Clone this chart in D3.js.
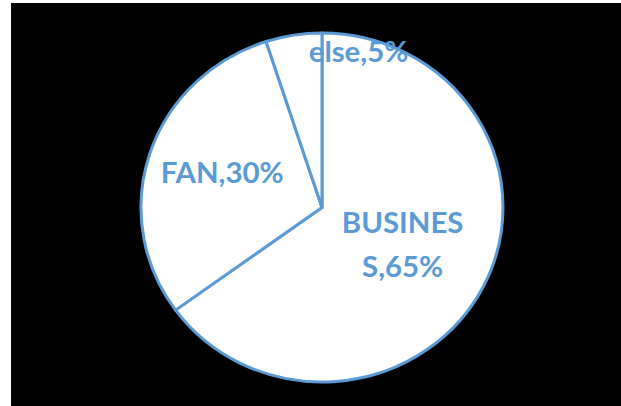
<!DOCTYPE html>
<html>
<head>
<meta charset="utf-8">
<script src="https://cdn.jsdelivr.net/npm/d3@7"></script>
<style>
  html, body { margin: 0; padding: 0; background: #fff; }
  svg { display: block; }
  .lbl { font-family: Lato, "Open Sans", sans-serif; font-weight: bold; fill: #5b9bd5; }
</style>
</head>
<body>
<div id="chart"></div>
<script>
// data
const categories = ['BUSINESS', 'FAN', 'else']
const shares = [65, 30, 5]

const W = 621, H = 406
const cx = 322, cy = 207.5
const rx = 181, ry = 174.5
const blue = '#5b9bd5'

let svg = d3.select('#chart').append('svg')
  .attr('width', W)
  .attr('height', H)

// black backdrop (white strip on the left/top like the screenshot)
svg.append('rect')
  .attr('x', 11).attr('y', 3)
  .attr('width', W - 11).attr('height', H - 3)
  .attr('fill', '#000')

let data = categories.map((c, i) => ({ name: c, value: shares[i] }))

let pie = d3.pie().sort(null).value(d => d.value)
let arcs = pie(data)

// unit arc, stretched to the ellipse
let arc = d3.arc().innerRadius(0).outerRadius(1)

svg.append('g')
  .attr('transform', `translate(${cx},${cy}) scale(${rx},${ry})`)
  .selectAll('path')
  .data(arcs)
  .join('path')
  .attr('d', arc)
  .attr('fill', '#fff')
  .attr('stroke', blue)
  .attr('stroke-width', 3)
  .attr('stroke-linejoin', 'round')
  .attr('vector-effect', 'non-scaling-stroke')

// label placement: radius fraction + nudge (Excel "best fit" look)
const labelK = [0.5, 0.58, 0.9]
const labelDx = [0, 0, 62]
const labelDy = [-2, -3, 0]
const fontSize = 28
const stretch = 1.05   // labels in the screenshot are a bit wide
const maxW = 124

let labels = svg.append('g')
arcs.forEach((a, i) => {
  let mid = (a.startAngle + a.endAngle) / 2
  let x = cx + rx * labelK[i] * Math.sin(mid) + labelDx[i]
  let y = cy - ry * labelK[i] * Math.cos(mid) + labelDy[i]
  let txt = a.data.name + ',' + a.data.value + '%'

  let t = labels.append('text')
    .attr('class', 'lbl')
    .attr('font-size', fontSize)
    .attr('text-anchor', 'middle')
    .attr('transform', `translate(${x},0) scale(${stretch},1)`)

  // break by characters when the label is wider than the box
  let lines = []
  let cur = ''
  let probe = t.append('tspan')
  for (let ch of txt) {
    probe.text(cur + ch)
    if (probe.node().getComputedTextLength() > maxW && cur.length) {
      lines.push(cur)
      cur = ch
    } else {
      cur += ch
    }
  }
  lines.push(cur)
  probe.remove()

  let lh = fontSize * 1.55
  let y0 = y - (lines.length - 1) * lh / 2 + fontSize * 0.36
  lines.forEach((l, j) => {
    t.append('tspan')
      .attr('x', 0)
      .attr('y', y0 + j * lh)
      .text(l)
  })
})
</script>
</body>
</html>
